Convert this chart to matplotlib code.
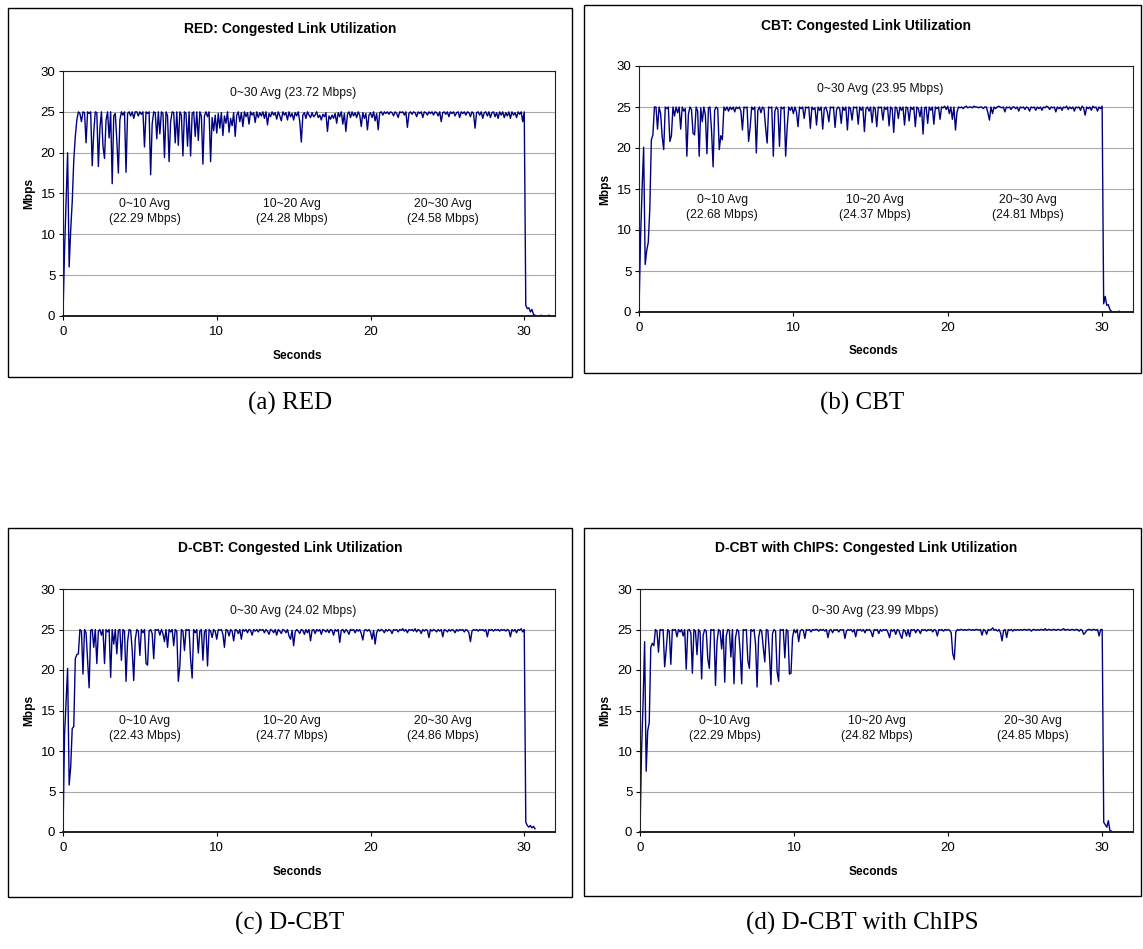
import numpy as np
import matplotlib
matplotlib.use('Agg')
import matplotlib.pyplot as plt
from matplotlib.patches import Rectangle

W, H = 1143, 949
SAMPLE_STEP = 0.1  # seconds between samples

# ---------------- RED ----------------
red_0_10 = [0, 8, 14, 20, 6, 10.5, 14, 19, 22, 24,
            25, 24.8, 23.8, 25, 24.9, 21.2, 25, 24.8, 25, 18.4,
            22.5, 25, 24.9, 18.3, 23, 25, 20.8, 19.3, 24, 25,
            21.8, 25, 16.2, 24.5, 24.8, 21.5, 17.5, 24, 25, 24.6,
            25, 17.6, 24.8, 25, 24.5, 25, 24.2, 25, 25, 24.5,
            25, 24.7, 25, 20.7, 25, 24.8, 25, 17.3, 23.5, 25,
            24.9, 21.7, 25, 22.3, 25, 24.8, 19.4, 25, 24.5, 18.9,
            23.8, 25, 24.9, 21.2, 25, 20.9, 25, 24.6, 19.6, 25,
            24.8, 20.8, 25, 19.6, 24.8, 25, 22, 25, 21.5, 25,
            24.5, 18.6, 24.5, 25, 24.4, 25, 18.9, 24.3, 22.7, 24.6,
            22.4]
red_10_20 = [24.8, 23.0, 24.9, 22.1, 24.5, 23.6, 25, 22.5, 24.2, 23.3,
             24.9, 22.0, 24.6, 25, 23.8, 24.9, 23.2, 25, 24.4, 24.9,
             23.5, 25, 24.6, 24.9, 23.7, 25, 24.3, 24.9, 24.5, 25,
             24.2, 25, 23.4, 24.8, 24.4, 25, 24.6, 24.9, 24.1, 25,
             24.5, 23.9, 25, 24.6, 24.9, 24.0, 25, 24.4, 24.8, 24.0,
             24.9, 24.5, 25, 23.8, 21.3, 24.6, 24.9, 24.2, 25, 24.6,
             24.3, 24.9, 24.4, 24.6, 25, 24.3, 24.6, 24.0, 24.7, 24.4,
             24.9, 22.6, 24.5, 24.1, 24.6, 24.2, 24.8, 23.6, 24.9, 24.4,
             25, 23.5, 24.8, 22.6, 24.7, 25, 24.3, 25, 24.5, 24.9,
             24.3, 25, 24.6, 23.2, 24.9, 24.2, 24.8, 22.8, 24.6, 24.9]
red_20_30 = [24.3, 25, 23.9, 24.8, 22.8, 24.9, 25, 24.6, 25, 24.8,
             25, 24.7, 25, 24.9, 24.5, 25, 24.8, 24.3, 25, 24.9,
             25, 24.6, 25, 23.1, 24.8, 25, 24.7, 25, 24.9, 24.4,
             25, 24.8, 25, 24.3, 25, 24.9, 24.6, 25, 24.8, 25,
             24.6, 25, 24.9, 24.5, 25, 23.8, 24.9, 25, 24.7, 25,
             24.4, 25, 24.8, 25, 24.5, 24.9, 25, 24.3, 25, 24.8,
             25, 24.6, 25, 24.9, 24.4, 25, 24.8, 23.0, 24.9, 25,
             24.6, 25, 24.2, 24.9, 25, 24.5, 25, 24.3, 24.9, 25,
             24.4, 24.9, 24.2, 25, 24.6, 25, 24.3, 24.9, 24.5, 25,
             24.2, 25, 24.6, 24.9, 24.3, 25, 24.7, 25, 23.8, 25]
red_tail = [1.3, 0.9, 1.0, 0.5, 0.8, 0.2, 0.1, 0, 0, 0,
            0.1, 0, 0, 0, 0, 0.1, 0, 0, 0]

# ---------------- CBT ----------------
cbt_0_10 = [0, 9, 15, 20.1, 5.8, 7.5, 8.5, 12.6, 21, 21.6,
            25, 25, 22.3, 25, 24.2, 21.4, 19.8, 25, 24.8, 25,
            20.8, 21.5, 25, 23.9, 25, 24.3, 25, 22.3, 25, 24.5,
            24.8, 19.0, 24.1, 25, 24.7, 21.8, 21.6, 25, 24.5, 19.0,
            24.9, 23.2, 25, 24, 19.3, 24.9, 25, 22.1, 17.7, 24.6,
            25, 24.8, 19.8, 21.5, 21.0, 25, 24.6, 25, 24.5, 25,
            24.7, 25, 24.4, 25, 24.8, 25, 24.5, 22.2, 25, 24.9,
            25, 20.8, 22.5, 25, 24.7, 25, 19.4, 24.6, 25, 24.3,
            25, 24.8, 22.5, 20.6, 25, 24.9, 25, 19.0, 24.5, 25,
            24.7, 20.2, 25, 24.8, 25, 19.0, 22.6, 25, 24.6, 25,
            24.2]
cbt_10_20 = [25, 24.4, 22.6, 25, 24.8, 25, 23.6, 25, 24.9, 25,
             22.4, 25, 24.7, 24.9, 22.8, 25, 24.6, 25, 22.3, 24.8,
             25, 24.4, 23.2, 25, 24.9, 25, 22.5, 24.7, 25, 24.8,
             23.0, 25, 24.6, 25, 22.2, 25, 24.8, 23.4, 25, 24.9,
             25, 22.9, 25, 24.6, 25, 22.0, 24.8, 25, 24.5, 25,
             23.1, 25, 24.8, 22.6, 25, 24.9, 25, 23.4, 25, 24.7,
             25, 22.7, 25, 24.8, 21.9, 25, 24.9, 23.6, 25, 24.6,
             25, 22.8, 25, 24.9, 23.3, 25, 24.7, 25, 22.6, 25,
             24.8, 23.8, 25, 21.7, 24.9, 25, 23.0, 25, 24.6, 25,
             22.9, 25, 24.8, 25, 23.5, 25, 24.9, 25.1, 24.7, 25.1]
cbt_20_30 = [24.2, 25, 23.5, 25, 22.2, 24.4, 25, 24.9, 25, 24.8,
             25, 25.1, 24.9, 25, 25, 24.9, 25.1, 25, 25, 24.9,
             25, 25, 24.8, 25, 25, 24.3, 23.4, 25, 24.2, 25,
             24.8, 25, 25.1, 25, 24.9, 25, 24.4, 25, 24.9, 25,
             24.7, 25, 25, 24.8, 25, 24.5, 25, 24.9, 25, 24.7,
             25, 24.9, 24.5, 25, 24.9, 25, 24.6, 25, 24.8, 25,
             24.6, 25, 24.9, 25.1, 25, 24.7, 25, 24.9, 25, 24.4,
             25, 24.8, 25, 24.6, 25, 24.9, 25.1, 24.7, 25, 24.8,
             25, 24.5, 25, 24.9, 25, 24.6, 25.1, 24.9, 24.0, 25,
             24.8, 25, 24.6, 25.1, 24.9, 25, 24.5, 25, 24.8, 25.1]
cbt_tail = [1.0, 1.9, 0.8, 0.9, 0.3, 0.1, 0, 0, 0, 0, 0.1]

# ---------------- D-CBT ----------------
dcbt_0_10 = [0, 12, 16, 20.2, 5.8, 8, 12.8, 13, 21.4, 21.9,
             22, 25, 24.8, 19.5, 25, 24.6, 21.2, 17.8, 24.9, 25,
             22.8, 25, 20.8, 24.8, 25, 24.3, 25, 20.8, 25, 24.7,
             25, 19.1, 25, 23.2, 25, 22, 24.9, 25, 21.2, 25,
             24.8, 18.6, 23.5, 25, 24.9, 22.5, 18.7, 23.8, 25, 24.8,
             21.8, 25, 24.6, 25, 20.8, 20.6, 24.8, 25, 24.5, 21.4,
             25, 24.9, 25, 24.3, 25, 24.5, 23.5, 25, 22.8, 25,
             24.7, 25, 23.0, 25, 24.8, 18.6, 20.5, 25, 24.8, 22.4,
             25, 24.9, 25, 21.3, 19.0, 25, 24.6, 25, 22.1, 24.8,
             25, 21.2, 24.7, 25, 20.5, 25, 24.8, 24, 25, 24.8,
             23.8]
dcbt_10_20 = [25, 24.9, 25, 24.4, 22.8, 25, 24.9, 24.2, 25, 24.8,
              23.6, 25, 24.9, 24.5, 25, 23.8, 25, 24.8, 25, 24.6,
              25, 24.9, 24.3, 25, 24.8, 25, 24.7, 25, 24.9, 25,
              24.6, 25, 24.8, 24.4, 25, 24.9, 24.6, 25, 24.3, 25,
              24.8, 24.5, 25, 24.9, 24.6, 25, 24.2, 23.8, 24.9, 23.0,
              24.7, 25, 24.8, 24.5, 25, 24.9, 24.4, 25, 24.6, 25,
              23.6, 24.9, 25, 24.5, 25, 24.8, 25, 24.4, 25, 24.9,
              24.7, 25, 24.6, 25, 24.9, 24.3, 25, 24.8, 25, 23.4,
              24.9, 25, 24.6, 25, 24.8, 24.4, 25, 24.9, 25, 24.6,
              25, 24.8, 25, 24.5, 23.7, 24.9, 25, 24.8, 25, 24.7]
dcbt_20_30 = [23.8, 24.9, 23.2, 24.6, 25, 24.8, 25, 24.9, 24.6, 25,
              24.8, 25, 24.9, 24.5, 25, 24.9, 25, 24.7, 25, 24.9,
              25.1, 24.8, 25, 24.6, 25, 24.9, 25, 24.8, 25.1, 24.7,
              25, 24.9, 24.5, 25, 24.8, 25, 24.9, 24.0, 25, 24.8,
              25, 24.9, 24.7, 25, 24.8, 25, 24.1, 25, 24.9, 24.7,
              25, 24.8, 25, 24.9, 24.6, 25, 24.8, 25, 24.9, 25,
              24.7, 25, 24.9, 24.6, 23.5, 24.8, 25, 24.9, 25, 24.8,
              25, 24.9, 25, 24.8, 25, 24.1, 25, 24.9, 25, 24.8,
              25, 24.9, 25, 24.8, 25, 24.9, 25, 24.8, 25, 24.9,
              24.1, 25, 24.8, 25, 24.6, 25, 24.9, 25.1, 24.7, 25]
dcbt_tail = [1.2, 0.8, 0.6, 0.8, 0.5, 0.7, 0.4]

# ---------------- D-CBT with ChIPS ----------------
chips_0_10 = [0, 10, 16, 23.5, 7.5, 12.5, 13.5, 22.8, 23.3, 23,
              25, 24.8, 22.2, 25, 24.9, 25, 20.4, 22.5, 25, 24.8,
              20.7, 25, 24.9, 25, 24.1, 25, 24.7, 25, 24.2, 25,
              20.1, 24.9, 25, 24.6, 19.6, 25, 24.8, 21.9, 25, 24.7,
              18.9, 24.3, 25, 24.8, 21.4, 20.2, 25, 24.9, 25, 18.1,
              23.5, 25, 24.8, 22.6, 25, 18.5, 24.2, 25, 24.9, 21.6,
              25, 18.3, 24, 25, 24.8, 22.3, 18.3, 25, 24.9, 25,
              21.2, 20.2, 25, 24.8, 25, 23.2, 17.9, 24, 25, 24.8,
              22.8, 21.0, 25, 24.9, 22, 18.2, 24.5, 25, 24.8, 19.8,
              18.6, 25, 24.9, 25, 21.5, 25, 24.8, 19.5, 19.6, 24,
              25]
chips_10_20 = [24.6, 25, 23.5, 24.8, 25, 24.9, 23.9, 25, 24.9, 25,
               24.7, 25, 24.9, 25, 25, 24.8, 25, 24.9, 25, 24.8,
               25, 24.0, 24.9, 25, 24.6, 25, 24.9, 25, 24.7, 25,
               24.9, 25, 23.9, 24.8, 25, 24.9, 25, 24.7, 25, 24.1,
               25, 24.9, 25, 24.8, 25, 24.6, 25, 24.9, 25, 24.7,
               24.1, 25, 24.9, 25, 24.5, 25, 24.8, 25, 24.9, 25,
               24.6, 24.0, 25, 24.8, 25, 24.4, 25, 24.9, 24.3, 23.9,
               25, 24.8, 24.2, 25, 24.1, 25, 24.9, 25, 24.6, 25,
               24.9, 24.5, 25, 24.9, 25, 24.8, 25, 24.9, 25, 24.7,
               25, 24.9, 24.2, 25, 24.9, 25, 24.8, 25, 24.9, 25]
chips_20_30 = [24.9, 24.6, 22.0, 21.3, 24.7, 25, 24.9, 25, 25, 24.9,
               25, 24.9, 25, 25, 24.9, 25, 24.9, 25, 25, 24.9,
               25, 24.3, 25, 24.9, 24.4, 25, 24.9, 25, 25.2, 24.9,
               25, 24.8, 25, 24.6, 23.6, 24.9, 25, 24.0, 25, 24.9,
               25, 24.8, 25, 24.9, 25, 24.9, 25, 24.9, 25, 25,
               24.9, 25, 25, 24.8, 25, 25, 24.9, 25, 24.9, 25,
               25, 24.9, 25.1, 24.9, 25, 25, 24.9, 25, 25, 24.9,
               25, 25, 24.9, 25, 25.1, 24.9, 25, 25, 24.9, 25,
               25, 24.9, 25, 25, 24.8, 25, 24.9, 24.4, 24.6, 24.9,
               25, 25, 24.9, 25, 25, 24.9, 25, 24.2, 25, 25]
chips_tail = [1.2, 0.9, 0.6, 1.4, 0.2, 0.1]

titles = ["RED: Congested Link Utilization",
          "CBT: Congested Link Utilization",
          "D-CBT: Congested Link Utilization",
          "D-CBT with ChIPS: Congested Link Utilization"]
captions = ["(a) RED", "(b) CBT", "(c) D-CBT", "(d) D-CBT with ChIPS"]
overall_avg = ["23.72", "23.95", "24.02", "23.99"]
avg_0_10 = ["22.29", "22.68", "22.43", "22.29"]
avg_10_20 = ["24.28", "24.37", "24.77", "24.82"]
avg_20_30 = ["24.58", "24.81", "24.86", "24.85"]

series = [red_0_10 + red_10_20 + red_20_30 + red_tail,
          cbt_0_10 + cbt_10_20 + cbt_20_30 + cbt_tail,
          dcbt_0_10 + dcbt_10_20 + dcbt_20_30 + dcbt_tail,
          chips_0_10 + chips_10_20 + chips_20_30 + chips_tail]

# layout in pixels
layouts = [
    dict(box=(8, 8, 572, 377), plot=(63, 71, 555, 316), title=(290, 29),
         xlab=(297, 356), ylab=29, cap=(290, 403)),
    dict(box=(584, 5, 1141, 373), plot=(639, 66, 1133, 312), title=(866, 26),
         xlab=(873, 351), ylab=605, cap=(862, 403)),
    dict(box=(8, 528, 572, 897), plot=(63, 589, 555, 832), title=(290, 548),
         xlab=(297, 872), ylab=29, cap=(290, 923)),
    dict(box=(584, 528, 1141, 896), plot=(640, 589, 1133, 832), title=(866, 548),
         xlab=(873, 872), ylab=605, cap=(862, 923)),
]
annot_x = [(15.0, 5.3, 14.9, 24.7), (15.6, 5.4, 15.3, 25.2),
           (15.0, 5.3, 14.9, 24.7), (15.3, 5.5, 15.4, 25.5)]

SANS = 'Liberation Sans'
SERIF = 'Liberation Serif'

fig = plt.figure(figsize=(W / 100, H / 100), dpi=100)


def fx(x):
    return x / W


def fy(y):
    return 1 - y / H


for i in range(4):
    L = layouts[i]
    bx0, by0, bx1, by1 = L['box']
    fig.patches.append(Rectangle((fx(bx0), fy(by1)), (bx1 - bx0) / W, (by1 - by0) / H,
                                 transform=fig.transFigure, fill=False,
                                 edgecolor='black', linewidth=1.0))
    px0, py0, px1, py1 = L['plot']
    ax = fig.add_axes([fx(px0), fy(py1), (px1 - px0) / W, (py1 - py0) / H])
    vals = np.array(series[i], dtype=float)
    t = np.arange(len(vals)) * SAMPLE_STEP
    ax.plot(t, vals, color='#000080', linewidth=1.0)
    ax.set_xlim(0, 32)
    ax.set_ylim(0, 30)
    ax.set_xticks([0, 10, 20, 30])
    ax.set_yticks(range(0, 31, 5))
    ax.yaxis.grid(True, color='#a9a9a9', linewidth=0.8)
    ax.set_axisbelow(True)
    for s in ['top', 'right', 'left']:
        ax.spines[s].set_linewidth(0.8)
        ax.spines[s].set_color('#202020')
    ax.spines['bottom'].set_linewidth(1.4)
    ax.spines['bottom'].set_color('#202020')
    ax.tick_params(axis='both', direction='out', length=3, width=0.8,
                   labelsize=9.5, pad=2.5)
    for lab in ax.get_xticklabels() + ax.get_yticklabels():
        lab.set_fontfamily(SANS)
    ax.tick_params(axis='x', pad=4)

    ox, a1, a2, a3 = annot_x[i]
    ax.text(ox, 27.25, "0~30 Avg (%s Mbps)" % overall_avg[i], ha='center', va='center',
            fontsize=8.7, family=SANS, color='#111111')
    for xx, lab, val in [(a1, "0~10 Avg", avg_0_10[i]), (a2, "10~20 Avg", avg_10_20[i]),
                         (a3, "20~30 Avg", avg_20_30[i])]:
        ax.text(xx, 13.7, lab, ha='center', va='center', fontsize=8.7, family=SANS,
                color='#111111')
        ax.text(xx, 11.85, "(%s Mbps)" % val, ha='center', va='center', fontsize=8.7,
                family=SANS, color='#111111')

    fig.text(fx(L['title'][0]), fy(L['title'][1]), titles[i], ha='center', va='center',
             fontsize=10, fontweight='bold', family=SANS)
    fig.text(fx(L['xlab'][0]), fy(L['xlab'][1]), "Seconds", ha='center', va='center',
             fontsize=8.6, fontweight='bold', family=SANS)
    fig.text(fx(L['ylab']), fy((py0 + py1) / 2), "Mbps", ha='center', va='center',
             rotation=90, fontsize=8.6, fontweight='bold', family=SANS)
    fig.text(fx(L['cap'][0]), fy(L['cap'][1]), captions[i], ha='center', va='center',
             fontsize=18, family=SERIF)

fig.savefig('out.png', dpi=100)
